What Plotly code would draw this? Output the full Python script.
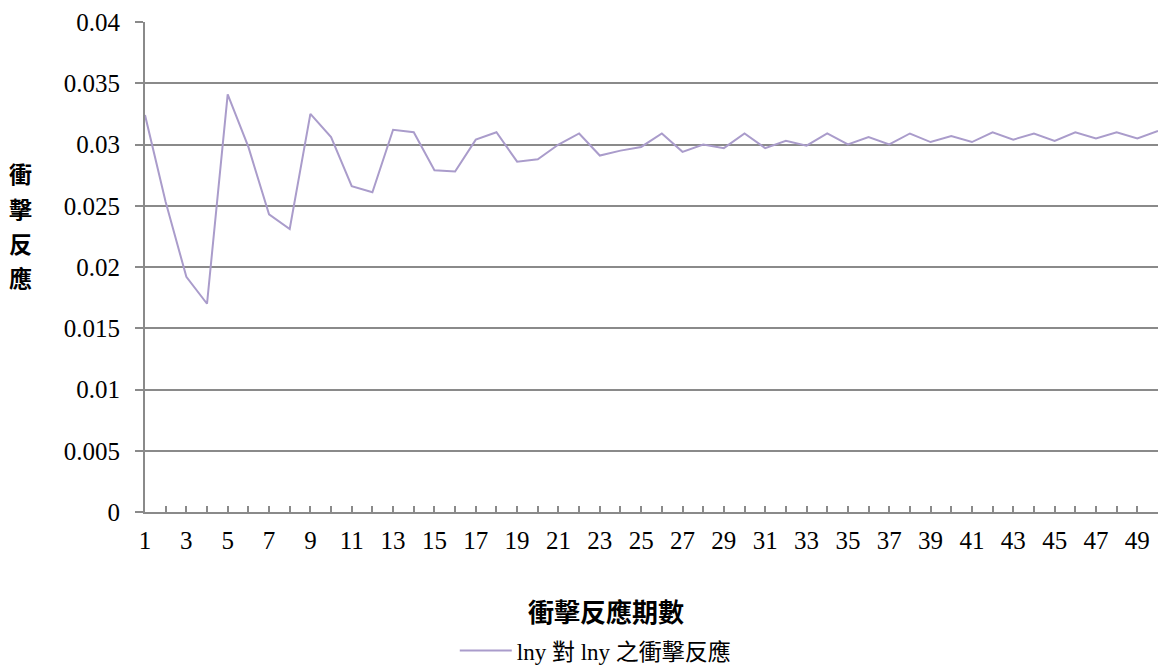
import plotly.graph_objects as go

# Impulse-response periods and responses
periods = list(range(1, 51))
response = [
    0.0324, 0.0253, 0.0192, 0.0170, 0.0341, 0.0298, 0.0243, 0.0231, 0.0325, 0.0306,
    0.0266, 0.0261, 0.0312, 0.0310, 0.0279, 0.0278, 0.0304, 0.0310, 0.0286, 0.0288,
    0.0300, 0.0309, 0.0291, 0.0295, 0.0298, 0.0309, 0.0294, 0.0300, 0.0297, 0.0309,
    0.0297, 0.0303, 0.0299, 0.0309, 0.0300, 0.0306, 0.0300, 0.0309, 0.0302, 0.0307,
    0.0302, 0.0310, 0.0304, 0.0309, 0.0303, 0.0310, 0.0305, 0.0310, 0.0305, 0.0311,
]
y_ticks = [0, 0.005, 0.01, 0.015, 0.02, 0.025, 0.03, 0.035, 0.04]
y_tick_labels = ["0", "0.005", "0.01", "0.015", "0.02", "0.025", "0.03", "0.035", "0.04"]
x_tick_labels = [str(p) if p % 2 == 1 else "" for p in periods]

series_name = "lny 對 lny 之衝擊反應"
x_title = "衝擊反應期數"
y_title = "衝擊反應"

serif = "Liberation Serif, Times New Roman, Noto Sans CJK TC, serif"
cjk_bold = "Noto Sans CJK TC, sans-serif"
grid = "#8a8a8a"

fig = go.Figure()
fig.add_trace(go.Scatter(
    x=periods, y=response, mode="lines", name=series_name,
    line=dict(color="#AA9CCB", width=2),
))

fig.update_layout(
    width=1158, height=666,
    margin=dict(l=145, r=0, t=22, b=154, autoexpand=False),
    paper_bgcolor="white", plot_bgcolor="white",
    font=dict(family=serif, size=25, color="#000000"),
    showlegend=True,
    legend=dict(
        orientation="h", x=0.445, xanchor="center", y=-0.283, yanchor="middle",
        font=dict(family=serif, size=23), itemwidth=52,
    ),
    xaxis=dict(
        range=[1, 50], tickmode="array", tickvals=periods, ticktext=x_tick_labels,
        ticks="inside", ticklen=6, tickcolor=grid, tickwidth=1.5,
        showline=True, linecolor=grid, linewidth=2, showgrid=False, zeroline=False,
        tickfont=dict(family=serif, size=25), ticklabelstandoff=5,
    ),
    yaxis=dict(
        range=[0, 0.04], tickmode="array", tickvals=y_ticks, ticktext=y_tick_labels,
        ticks="outside", ticklen=8, tickcolor=grid, tickwidth=1.5,
        showline=True, linecolor=grid, linewidth=2,
        showgrid=True, gridcolor=grid, gridwidth=2, zeroline=False,
        tickfont=dict(family=serif, size=25), ticklabelstandoff=10,
    ),
)

# Axis titles
fig.add_annotation(
    text=f"<b>{x_title}</b>", xref="paper", yref="paper", x=0.455, y=-0.202,
    showarrow=False, font=dict(family=cjk_bold, size=26, color="#000000"),
    xanchor="center", yanchor="middle",
)
for i, ch in enumerate(y_title):
    py = 173 + i * 34.8
    fig.add_annotation(
        text=f"<b>{ch}</b>", xref="paper", yref="paper",
        x=(20 - 145) / 1013, y=(512 - py) / 490,
        showarrow=False, font=dict(family=cjk_bold, size=23, color="#000000"),
        xanchor="center", yanchor="middle",
    )

fig.write_html("out.html")
